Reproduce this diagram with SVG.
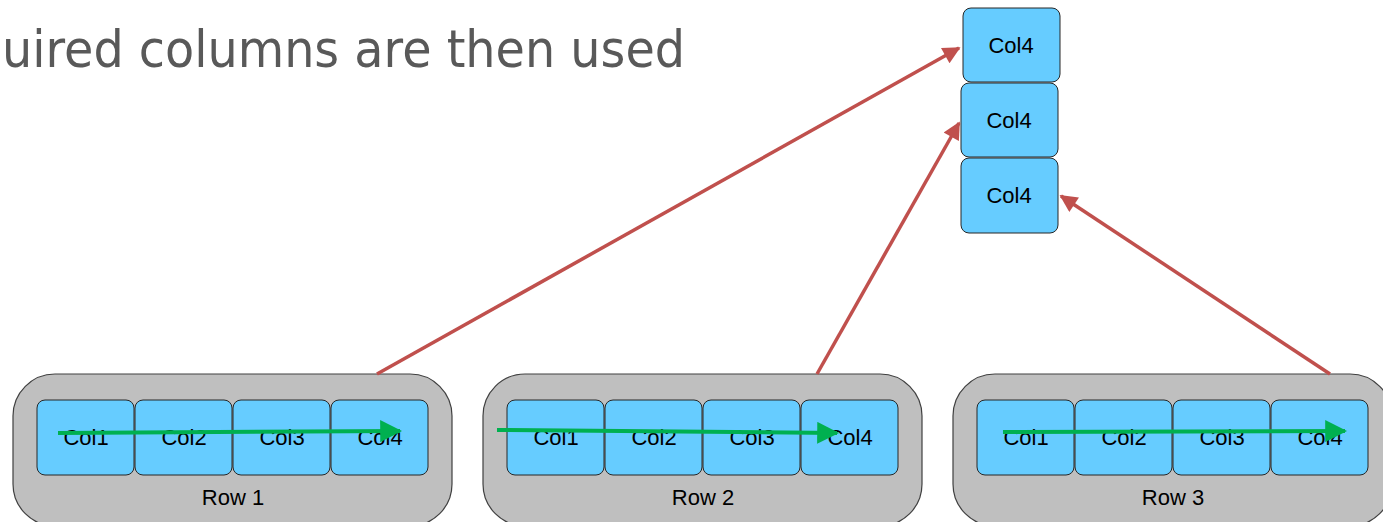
<svg xmlns="http://www.w3.org/2000/svg" width="1383" height="522" viewBox="0 0 1383 522">
<defs>
<style>
.row{fill:#BFBFBF;stroke:#404040;stroke-width:1.2}
.cell{fill:#66CCFF;stroke:#262626;stroke-width:1}
.t{font-family:"Liberation Sans",Arial,sans-serif;font-size:22px;fill:#000;text-anchor:middle}
.red{stroke:#C0504D;stroke-width:3.5;fill:none}
.green{stroke:#00B050;stroke-width:4;fill:none}
</style>
<marker id="ar" viewBox="0 0 10 10" refX="9" refY="5" markerWidth="6" markerHeight="5" markerUnits="strokeWidth" orient="auto"><path d="M0,0 L10,5 L0,10 z" fill="#C0504D"/></marker>
<marker id="ag" viewBox="0 0 10 10" refX="9" refY="5" markerWidth="5.5" markerHeight="5.5" markerUnits="strokeWidth" orient="auto"><path d="M0,0 L10,5 L0,10 z" fill="#00B050"/></marker>
</defs>
<rect width="1383" height="522" fill="#fff"/>
<text x="2" y="67" font-family="DejaVu Sans, Verdana, sans-serif" font-size="51" fill="#595959" textLength="683" lengthAdjust="spacingAndGlyphs">uired columns are then used</text>

<g id="row1">
<rect class="row" x="13" y="374" width="439" height="152" rx="42"/>
<rect class="cell" x="37" y="400" width="97" height="75" rx="8"/>
<rect class="cell" x="135" y="400" width="97" height="75" rx="8"/>
<rect class="cell" x="233" y="400" width="97" height="75" rx="8"/>
<rect class="cell" x="331" y="400" width="97" height="75" rx="8"/>
<text class="t" x="86" y="445">Col1</text>
<text class="t" x="184" y="445">Col2</text>
<text class="t" x="282" y="445">Col3</text>
<text class="t" x="380" y="445">Col4</text>
<text class="t" x="233" y="505">Row 1</text>
</g>
<g id="row2">
<rect class="row" x="483" y="374" width="439" height="152" rx="42"/>
<rect class="cell" x="507" y="400" width="97" height="75" rx="8"/>
<rect class="cell" x="605" y="400" width="97" height="75" rx="8"/>
<rect class="cell" x="703" y="400" width="97" height="75" rx="8"/>
<rect class="cell" x="801" y="400" width="97" height="75" rx="8"/>
<text class="t" x="556" y="445">Col1</text>
<text class="t" x="654" y="445">Col2</text>
<text class="t" x="752" y="445">Col3</text>
<text class="t" x="850" y="445">Col4</text>
<text class="t" x="703" y="505">Row 2</text>
</g>
<g id="row3">
<rect class="row" x="953" y="374" width="439" height="152" rx="42"/>
<rect class="cell" x="977" y="400" width="97" height="75" rx="8"/>
<rect class="cell" x="1075" y="400" width="97" height="75" rx="8"/>
<rect class="cell" x="1173" y="400" width="97" height="75" rx="8"/>
<rect class="cell" x="1271" y="400" width="97" height="75" rx="8"/>
<text class="t" x="1026" y="445">Col1</text>
<text class="t" x="1124" y="445">Col2</text>
<text class="t" x="1222" y="445">Col3</text>
<text class="t" x="1320" y="445">Col4</text>
<text class="t" x="1173" y="505">Row 3</text>
</g>
<g id="out1"><rect class="cell" x="963" y="8" width="97" height="74" rx="8"/><text class="t" x="1011" y="53">Col4</text></g>
<g id="out2"><rect class="cell" x="961" y="83" width="97" height="74" rx="8"/><text class="t" x="1009" y="128">Col4</text></g>
<g id="out3"><rect class="cell" x="961" y="158" width="97" height="75" rx="8"/><text class="t" x="1009" y="203">Col4</text></g>

<g id="connectors">
<line class="red" x1="377" y1="374" x2="959" y2="48" marker-end="url(#ar)"/>
<line class="red" x1="817" y1="374" x2="959" y2="123" marker-end="url(#ar)"/>
<line class="red" x1="1330" y1="374" x2="1061" y2="196" marker-end="url(#ar)"/>
<line class="green" x1="58" y1="433" x2="400" y2="431" marker-end="url(#ag)"/>
<line class="green" x1="497" y1="430" x2="837" y2="433" marker-end="url(#ag)"/>
<line class="green" x1="1003" y1="432" x2="1345" y2="431" marker-end="url(#ag)"/>
</g>
</svg>
